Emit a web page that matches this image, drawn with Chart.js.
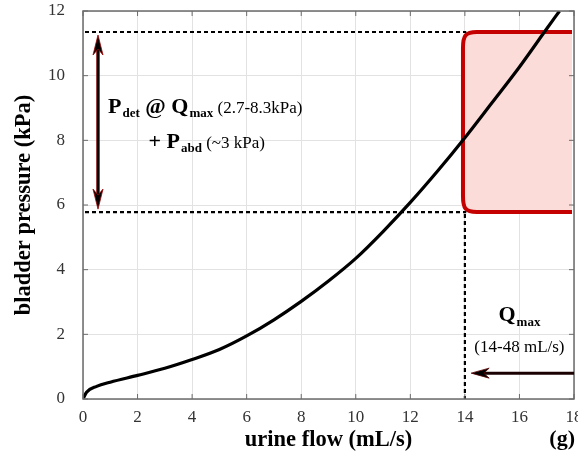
<!DOCTYPE html>
<html>
<head>
<meta charset="utf-8">
<script src="https://cdn.jsdelivr.net/npm/chart.js@4.4.1/dist/chart.umd.min.js"></script>
<style>
  html, body { margin: 0; padding: 0; background: #fff; }
  #wrap { width: 578px; height: 459px; }
</style>
</head>
<body>
<div id="wrap"><canvas id="flowChart"></canvas></div>
<script>
// pressure-flow curve
const flow     = [0, 0.13, 0.5, 1, 2, 3, 4, 5, 6, 7, 8, 9, 10, 11, 12, 13, 14, 15, 16, 17, 17.47];
const pressure = [0, 0.21, 0.39, 0.52, 0.73, 0.95, 1.22, 1.53, 1.95, 2.45, 3.02, 3.65, 4.35, 5.18, 6.08, 7.05, 8.08, 9.17, 10.27, 11.45, 12];

const xTicks = [0, 2, 4, 6, 8, 10, 12, 14, 16, 18];
const yTicks = [0, 2, 4, 6, 8, 10, 12];

// physiological window
const pdetRange = [5.78, 11.35];   // kPa
const qmaxLow = 14;                // mL/s
const boxLeft = 13.93;
const guideEnd = 14.05;
const rangeArrowX = 0.55;
const qmaxArrow = { from: 18, to: 14.23, y: 0.8 };

const serif = '"Liberation Serif", "Times New Roman", serif';

function arrowHead(ctx, x, y, dx, dy, len, half) {
    ctx.beginPath();
    ctx.moveTo(x, y);
    ctx.lineTo(x - dx * len - dy * half, y - dy * len + dx * half);
    ctx.lineTo(x - dx * len * 0.7, y - dy * len * 0.7);
    ctx.lineTo(x - dx * len + dy * half, y - dy * len - dx * half);
    ctx.closePath();
    ctx.fill();
    ctx.stroke();
}

// draws "Main" + subscript, returns new x
function subText(ctx, x, y, main, sub, size) {
    ctx.font = 'bold ' + size + 'px ' + serif;
    ctx.fillText(main, x, y);
    x += ctx.measureText(main).width;
    ctx.font = 'bold ' + Math.round(size * 0.58) + 'px ' + serif;
    ctx.fillText(sub, x + 1, y + size * 0.2);
    return x + 1 + ctx.measureText(sub).width;
}

const annotations = {
    id: 'annotations',
    beforeDatasetsDraw(chart) {
        const { ctx, chartArea: a, scales: { x, y } } = chart;
        ctx.save();
        ctx.beginPath();
        ctx.rect(a.left, a.top, a.right - a.left, a.bottom - a.top);
        ctx.clip();

        // shaded Pdet/Qmax window
        const bl = x.getPixelForValue(boxLeft);
        const bt = y.getPixelForValue(pdetRange[1]);
        const bb = y.getPixelForValue(pdetRange[0]);
        const br = x.getPixelForValue(18) - 2;
        const rx = 14, ry = 16;
        ctx.beginPath();
        ctx.moveTo(br, bt);
        ctx.lineTo(bl + rx, bt);
        ctx.bezierCurveTo(bl + 2, bt, bl, bt + 4, bl, bt + ry);
        ctx.lineTo(bl, bb - ry);
        ctx.bezierCurveTo(bl, bb - 4, bl + 2, bb, bl + rx, bb);
        ctx.lineTo(br, bb);
        ctx.fillStyle = '#fcdcd8';
        ctx.fill();
        ctx.strokeStyle = '#c40000';
        ctx.lineWidth = 4;
        ctx.stroke();

        // dotted guides
        ctx.strokeStyle = '#000';
        ctx.lineWidth = 2.2;
        ctx.setLineDash([4, 3]);
        const gx = x.getPixelForValue(guideEnd);
        ctx.beginPath();
        ctx.moveTo(x.getPixelForValue(0) + 2, bt);
        ctx.lineTo(gx, bt);
        ctx.moveTo(x.getPixelForValue(0) + 2, bb);
        ctx.lineTo(gx, bb);
        ctx.moveTo(x.getPixelForValue(qmaxLow), bb + 2);
        ctx.lineTo(x.getPixelForValue(qmaxLow), y.getPixelForValue(0));
        ctx.stroke();
        ctx.setLineDash([]);
        ctx.restore();
    },
    afterDatasetsDraw(chart) {
        const { ctx, chartArea: a, scales: { x, y } } = chart;
        ctx.save();

        // frame and inward ticks
        ctx.strokeStyle = '#6b6b6b';
        ctx.lineWidth = 1.5;
        ctx.strokeRect(a.left, a.top, a.right - a.left, a.bottom - a.top);
        ctx.lineWidth = 1;
        ctx.beginPath();
        xTicks.forEach(v => {
            const px = x.getPixelForValue(v);
            ctx.moveTo(px, a.bottom); ctx.lineTo(px, a.bottom - 5);
            ctx.moveTo(px, a.top); ctx.lineTo(px, a.top + 5);
        });
        yTicks.forEach(v => {
            const py = y.getPixelForValue(v);
            ctx.moveTo(a.left, py); ctx.lineTo(a.left + 5, py);
            ctx.moveTo(a.right, py); ctx.lineTo(a.right - 5, py);
        });
        ctx.stroke();

        // double arrow for pressure range
        const ax = x.getPixelForValue(rangeArrowX);
        const top = y.getPixelForValue(pdetRange[1]) + 3;
        const bot = y.getPixelForValue(pdetRange[0]) - 3;
        ctx.strokeStyle = '#7a0000';
        ctx.lineWidth = 3.5;
        ctx.beginPath();
        ctx.moveTo(ax, top + 12); ctx.lineTo(ax, bot - 12);
        ctx.stroke();
        ctx.strokeStyle = '#000';
        ctx.lineWidth = 2;
        ctx.stroke();
        ctx.fillStyle = '#000';
        ctx.strokeStyle = '#9a0000';
        ctx.lineWidth = 0.8;
        arrowHead(ctx, ax, top, 0, -1, 20, 5);
        arrowHead(ctx, ax, bot, 0, 1, 20, 5);

        // Qmax arrow
        const qy = y.getPixelForValue(qmaxArrow.y);
        const qx0 = x.getPixelForValue(qmaxArrow.from);
        const qx1 = x.getPixelForValue(qmaxArrow.to);
        ctx.strokeStyle = '#1a0000';
        ctx.lineWidth = 3;
        ctx.beginPath();
        ctx.moveTo(qx0, qy); ctx.lineTo(qx1 + 12, qy);
        ctx.stroke();
        ctx.strokeStyle = '#5a0000';
        ctx.lineWidth = 0.8;
        arrowHead(ctx, qx1, qy, -1, 0, 18, 5);

        // labels
        ctx.fillStyle = '#000';
        ctx.textBaseline = 'alphabetic';
        ctx.textAlign = 'left';
        let tx = x.getPixelForValue(0.92);
        let ty = y.getPixelForValue(8.85);
        tx = subText(ctx, tx, ty, 'P', 'det', 22);
        ctx.font = 'bold 22px ' + serif;
        ctx.fillText(' @ ', tx, ty);
        tx += ctx.measureText(' @ ').width;
        tx = subText(ctx, tx, ty, 'Q', 'max', 22);
        ctx.font = '17px ' + serif;
        ctx.fillText(' (2.7-8.3kPa)', tx, ty);

        tx = x.getPixelForValue(2.4);
        ty = y.getPixelForValue(7.76);
        ctx.font = 'bold 22px ' + serif;
        ctx.fillText('+ ', tx, ty);
        tx += ctx.measureText('+ ').width;
        tx = subText(ctx, tx, ty, 'P', 'abd', 22);
        ctx.font = '17px ' + serif;
        ctx.fillText(' (~3 kPa)', tx, ty);

        const qc = x.getPixelForValue(16.0);
        ctx.font = 'bold 22px ' + serif;
        const qw = ctx.measureText('Q').width;
        ctx.font = 'bold 13px ' + serif;
        const mw = ctx.measureText('max').width;
        subText(ctx, qc - (qw + mw + 1) / 2, y.getPixelForValue(2.4), 'Q', 'max', 22);
        ctx.textAlign = 'center';
        ctx.font = '17px ' + serif;
        ctx.fillText('(14-48 mL/s)', qc, y.getPixelForValue(1.45));

        // panel letter
        ctx.textAlign = 'right';
        ctx.font = 'bold 22px ' + serif;
        ctx.fillText('(g)', a.right + 1, chart.height - 14);
        ctx.restore();
    }
};

new Chart(document.getElementById('flowChart'), {
    type: 'line',
    data: {
        datasets: [{
            data: flow.map((f, i) => ({ x: f, y: pressure[i] })),
            borderColor: '#000',
            borderWidth: 3.2,
            pointRadius: 0,
            cubicInterpolationMode: 'monotone',
            fill: false
        }]
    },
    options: {
        responsive: true,
        maintainAspectRatio: false,
        animation: false,
        layout: { autoPadding: false, padding: { left: 0, right: 4, top: 11, bottom: 0 } },
        plugins: { legend: { display: false }, tooltip: { enabled: false } },
        scales: {
            x: {
                type: 'linear',
                min: 0, max: 18,
                afterFit: s => {
                    s.height = 60;
                    s.paddingLeft = 0; s.paddingRight = 0;
                },
                afterBuildTicks: s => { s.ticks = xTicks.map(v => ({ value: v })); },
                ticks: { color: '#333', padding: 8, font: { family: serif, size: 17 } },
                grid: { color: '#e2e2e2', drawTicks: false },
                border: { display: false },
                title: {
                    display: true, text: 'urine flow (mL/s)', color: '#000',
                    font: { family: serif, size: 22.5, weight: 'bold' },
                    padding: { top: 0, bottom: 5 }
                }
            },
            y: {
                min: 0, max: 12,
                afterFit: s => {
                    s.width = 83;
                    s.paddingTop = 0; s.paddingBottom = 0;
                },
                afterBuildTicks: s => { s.ticks = yTicks.map(v => ({ value: v })); },
                ticks: { color: '#333', padding: 18, font: { family: serif, size: 17 } },
                grid: { color: '#e2e2e2', drawTicks: false },
                border: { display: false },
                title: {
                    display: true, text: 'bladder pressure (kPa)', color: '#000',
                    font: { family: serif, size: 22.5, weight: 'bold' },
                    padding: { top: 11, bottom: 0 }
                }
            }
        }
    },
    plugins: [annotations]
});
</script>
</body>
</html>
